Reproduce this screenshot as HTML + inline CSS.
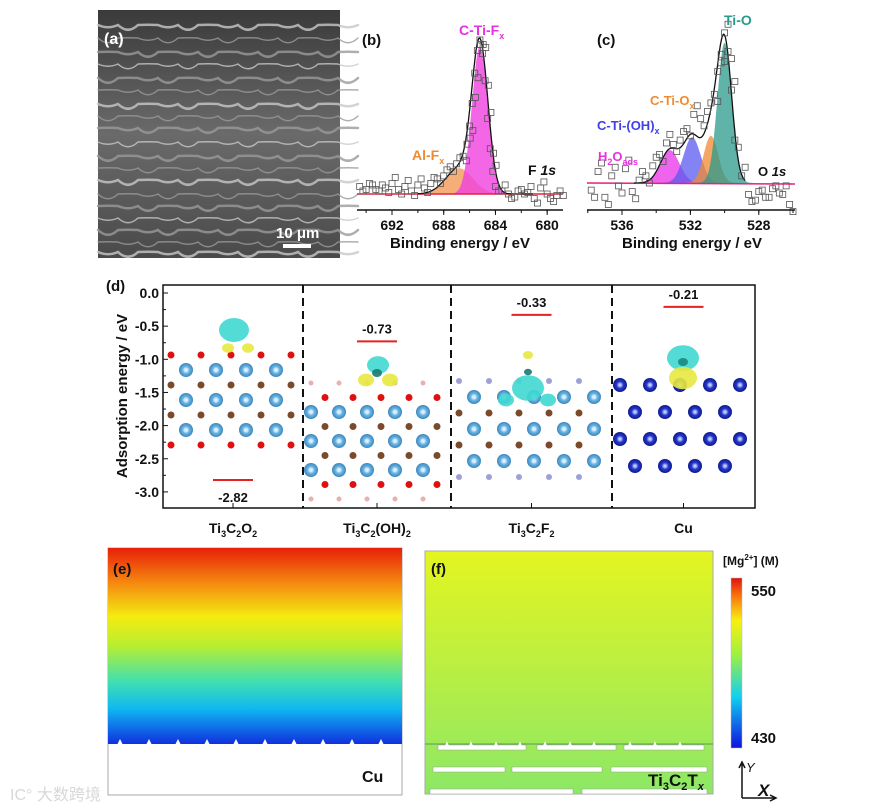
<!DOCTYPE html>
<html><head><meta charset="utf-8">
<style>
body{margin:0;background:#fff;}
svg{display:block;font-family:"Liberation Sans",Arial,sans-serif;}
</style></head>
<body>
<svg id="fig" width="886" height="809" viewBox="0 0 886 809" xmlns="http://www.w3.org/2000/svg">
<defs>
 <linearGradient id="gE" x1="0" y1="0" x2="0" y2="1">
  <stop offset="0" stop-color="#e8200a"/><stop offset="0.18" stop-color="#f58a10"/>
  <stop offset="0.35" stop-color="#f4ec10"/><stop offset="0.5" stop-color="#b8ee30"/>
  <stop offset="0.68" stop-color="#40e0b0"/><stop offset="0.82" stop-color="#10b8f0"/>
  <stop offset="1" stop-color="#1030e0"/></linearGradient>
 <linearGradient id="gF" x1="0" y1="0" x2="0" y2="1">
  <stop offset="0" stop-color="#e4f520"/><stop offset="1" stop-color="#8ce866"/></linearGradient>
 <linearGradient id="gCB" x1="0" y1="1" x2="0" y2="0">
  <stop offset="0" stop-color="#1010e0"/><stop offset="0.3" stop-color="#10d0f0"/>
  <stop offset="0.55" stop-color="#a0f040"/><stop offset="0.75" stop-color="#f8f010"/>
  <stop offset="0.9" stop-color="#f87010"/><stop offset="1" stop-color="#e01010"/></linearGradient>
 <linearGradient id="gSEM" x1="0" y1="0" x2="0" y2="1">
  <stop offset="0" stop-color="#3a3a3a"/><stop offset="0.5" stop-color="#6a6a6a"/><stop offset="1" stop-color="#4a4a4a"/></linearGradient>
 <radialGradient id="atomB"><stop offset="0.2" stop-color="#d8f0ff"/><stop offset="0.5" stop-color="#6ab4e0"/><stop offset="1" stop-color="#3a86c0"/></radialGradient>
 <radialGradient id="atomCu"><stop offset="0.15" stop-color="#c0c8ff"/><stop offset="0.5" stop-color="#2236c8"/><stop offset="1" stop-color="#101a90"/></radialGradient>
</defs>

<!-- (a) SEM -->
<g>
 <rect x="98" y="10" width="242" height="248" fill="url(#gSEM)"/>
 <g id="semLines" stroke-linecap="round" fill="none"></g>
 <text x="104" y="44" font-size="16" font-weight="bold" fill="#fff">(a)</text>
 <text x="276" y="238" font-size="15" font-weight="bold" fill="#fff">10 μm</text>
 <rect x="283" y="244" width="28" height="4" fill="#fff"/>
</g>

<g id="pb"></g>
<g id="pc"></g>
<g id="pd"></g>

<!-- (e) -->
<g>
 <rect x="108" y="548" width="294" height="247" fill="#fff" stroke="#aaa"/>
 <rect x="108" y="548" width="294" height="196" fill="url(#gE)"/>
 <g id="bumpsE" fill="#fff"></g>
 <text x="113" y="574" font-size="15" font-weight="bold" fill="#111">(e)</text>
 <text x="362" y="782" font-size="16" font-weight="bold" fill="#111">Cu</text>
</g>

<!-- (f) -->
<g>
 <rect x="425" y="551" width="288" height="243" fill="url(#gF)" stroke="#aaa"/>
 <line x1="425" y1="744" x2="713" y2="744" stroke="#5a9a5a" stroke-width="1"/>
 <g fill="#fff" stroke="#999" stroke-width="0.5">
  <rect x="438" y="745" width="88" height="5"/><rect x="537" y="745" width="79" height="5"/><rect x="624" y="745" width="80" height="5"/>
  <rect x="433" y="767" width="72" height="5"/><rect x="512" y="767" width="90" height="5"/><rect x="611" y="767" width="96" height="5"/>
  <rect x="430" y="789" width="143" height="5"/><rect x="582" y="789" width="125" height="5"/>
 </g>
 <g id="bumpsF" fill="#fff"></g>
 <text x="431" y="574" font-size="15" font-weight="bold" fill="#111">(f)</text>
 <text x="648" y="786" font-size="17" font-weight="bold" fill="#111">Ti<tspan font-size="11" dy="4">3</tspan><tspan dy="-4">C</tspan><tspan font-size="11" dy="4">2</tspan><tspan dy="-4">T</tspan><tspan font-size="11" dy="4" font-style="italic">x</tspan></text>
</g>

<!-- colorbar -->
<g>
 <text x="723" y="565" font-size="12" font-weight="bold" fill="#111">[Mg<tspan font-size="8" dy="-5">2+</tspan><tspan dy="5">] (M)</tspan></text>
 <rect x="731" y="578" width="11" height="170" fill="url(#gCB)" stroke="#bbb" stroke-width="0.5"/>
 <text x="751" y="596" font-size="15" font-weight="bold" fill="#111">550</text>
 <text x="751" y="743" font-size="15" font-weight="bold" fill="#111">430</text>
</g>
<g stroke="#111" stroke-width="1.5" fill="none">
 <path d="M742 798 V764 M739 768 L742 762 L745 768"/>
 <path d="M742 798 H775 M770 795 L776 798 L770 801"/>
 <text x="746" y="772" font-size="13" font-style="italic" fill="#111" stroke="none">Y</text>
 <text x="758" y="796" font-size="17" font-weight="bold" font-style="italic" fill="#111" stroke="none">X</text>
</g>
<text x="10" y="800" font-size="16" fill="#d8d8d8" font-family="'Liberation Sans','Noto Sans CJK SC',sans-serif">IC° 大数跨境</text>
</svg>

<script>
const NS="http://www.w3.org/2000/svg";
function mk(tag,attrs,parent,text){const e=document.createElementNS(NS,tag);for(const k in attrs)e.setAttribute(k,attrs[k]);if(text!==undefined)e.textContent=text;parent.appendChild(e);return e;}

/* ===== Panel (b) data ===== */
const bEnergies=[694.5,694,693.5,693,692.5,692,691.5,691,690.5,690,689.5,689,688.5,688,687.5,687,686.5,686.2,686,685.8,685.6,685.4,685.2,685,684.8,684.6,684.4,684.2,684,683.5,683,682.5,682,681.5,681,680.5,680,679.5,679];
const bCounts=[0.05,0.03,0.06,0.02,0.04,0.07,0.03,0.05,0.02,0.06,0.04,0.07,0.1,0.12,0.18,0.2,0.25,0.33,0.45,0.6,0.8,0.95,1.02,0.93,0.75,0.5,0.3,0.15,0.05,0.02,0.0,-0.02,0.03,0.01,-0.03,0.04,0.0,-0.05,0.02];
const bPeakCenters=[685.2,686.8];
const bPeakHeights=[0.98,0.17];
const bPeakSigmas=[0.62,1.05];
const bPeakLabels=["C-Ti-F","Al-F"];
const bTicks=[692,688,684,680];

/* ===== Panel (c) data ===== */
const cEnergies=[537.8,537.4,537,536.6,536.2,535.8,535.4,535,534.6,534.2,533.8,533.4,533,532.6,532.2,531.8,531.4,531,530.6,530.4,530.2,530,529.8,529.6,529.4,529,528.6,528.2,527.8,527.4,527,526.6,526.2];
const cCounts=[-0.05,0.08,-0.1,0.05,-0.02,0.1,-0.06,0.02,0.05,0.12,0.2,0.28,0.27,0.3,0.38,0.48,0.45,0.5,0.62,0.78,0.9,1.05,0.92,0.65,0.3,0.05,-0.08,-0.12,-0.05,-0.1,-0.02,-0.08,-0.15];
const cPeakCenters=[530.0,530.8,531.9,533.2];
const cPeakHeights=[0.98,0.33,0.32,0.23];
const cPeakSigmas=[0.42,0.42,0.5,0.55];
const cPeakColors=["#2a9a8c","#f08a30","#5a5af0","#e830e8"];
const cTicks=[536,532,528];

/* ===== Panel (d) data ===== */
const dCategories=["Ti3C2O2","Ti3C2(OH)2","Ti3C2F2","Cu"];
const dEnergies=[-2.82,-0.73,-0.33,-0.21];
const dTicks=[0.0,-0.5,-1.0,-1.5,-2.0,-2.5,-3.0];

function gauss(x,c,h,s){return h*Math.exp(-0.5*((x-c)/s)**2);}

/* ---- panel b ---- */
(function(){
 const g=document.getElementById('pb');
 const xB=e=>392+(692-e)*12.93, yB=v=>194-151*v;
 const sum=e=>bPeakCenters.reduce((a,c,i)=>a+gauss(e,c,bPeakHeights[i],bPeakSigmas[i]),0);
 const cols=["#f040e0","#f4a060"];
 [1,0].forEach(i=>{let d="M"+xB(690)+" "+yB(0);for(let e=690;e>=680.5;e-=0.1)d+=" L"+xB(e).toFixed(1)+" "+yB(gauss(e,bPeakCenters[i],bPeakHeights[i],bPeakSigmas[i])).toFixed(1);d+=" L"+xB(680.5)+" "+yB(0)+"Z";
  const p=mk('path',{d:d,fill:cols[i],opacity:i?0.85:0.8},g);
  
  });
 const base=mk('line',{x1:357,x2:563,y1:yB(0),y2:yB(0),stroke:"#e8203a","stroke-width":1.5},g);
 
 
 let d="";for(let e=690;e>=681;e-=0.1)d+=(d?" L":"M")+xB(e).toFixed(1)+" "+yB(sum(e)).toFixed(1);
 const fit=mk('path',{d:d,fill:"none",stroke:"#111","stroke-width":1.3},g);
 
 
 bEnergies.forEach((e,i)=>{const r=mk('rect',{x:xB(e)-3,y:yB(bCounts[i])-3,width:6,height:6,fill:"none",stroke:"#555","stroke-width":0.8},g);
  
  
  const r2=mk('rect',{x:xB(e-0.25)-3,y:yB(bCounts[i]+(i%2?0.04:-0.03))-3,width:6,height:6,fill:"none",stroke:"#555","stroke-width":0.8},g);
  
  });
 mk('line',{x1:357,x2:563,y1:210,y2:210,stroke:"#111","stroke-width":1.5},g);
 bTicks.forEach(t=>{mk('line',{x1:xB(t),x2:xB(t),y1:210,y2:215,stroke:"#111"},g);
  const tl=mk('text',{x:xB(t),y:230,"font-size":14,"font-weight":"bold","text-anchor":"middle",fill:"#111"},g,t);
  
  });
 for(let t=694;t>=680;t-=2){mk('line',{x1:xB(t),x2:xB(t),y1:210,y2:213,stroke:"#111"},g);}
 const xt=mk('text',{x:460,y:248,"font-size":15,"font-weight":"bold","text-anchor":"middle",fill:"#111"},g,"Binding energy / eV");
 
 
 mk('text',{x:362,y:45,"font-size":15,"font-weight":"bold",fill:"#111"},g,"(b)");
 const l1=mk('text',{x:459,y:35,"font-size":14,"font-weight":"bold",fill:"#e830e0"},g,"C-Ti-F");mk('tspan',{"font-size":9,dy:4},l1,"x");
 const l2=mk('text',{x:412,y:160,"font-size":14,"font-weight":"bold",fill:"#f08a30"},g,"Al-F");mk('tspan',{"font-size":9,dy:4},l2,"x");
 const l3=mk('text',{x:528,y:175,"font-size":14,"font-weight":"bold",fill:"#111"},g,"F ");mk('tspan',{"font-style":"italic"},l3,"1s");
})();

/* ---- panel c ---- */
(function(){
 const g=document.getElementById('pc');
 const xC=e=>622+(536-e)*17.1, yC=v=>183-143*v;
 const sum=e=>cPeakCenters.reduce((a,c,i)=>a+gauss(e,c,cPeakHeights[i],cPeakSigmas[i]),0);
 [3,2,1,0].forEach(i=>{let d="M"+xC(536)+" "+yC(0);for(let e=536;e>=528;e-=0.05)d+=" L"+xC(e).toFixed(1)+" "+yC(gauss(e,cPeakCenters[i],cPeakHeights[i],cPeakSigmas[i])).toFixed(1);d+=" L"+xC(528)+" "+yC(0)+"Z";
  const p=mk('path',{d:d,fill:cPeakColors[i],opacity:0.75},g);
  
  });
 mk('line',{x1:587,x2:795,y1:yC(0),y2:yC(0)+1,stroke:"#e8207a","stroke-width":1.5},g);
 let d="";for(let e=535.3;e>=528.8;e-=0.05)d+=(d?" L":"M")+xC(e).toFixed(1)+" "+yC(sum(e)).toFixed(1);
 const fit=mk('path',{d:d,fill:"none",stroke:"#111","stroke-width":1.3},g);
 
 
 cEnergies.forEach((e,i)=>{const r=mk('rect',{x:xC(e)-3,y:yC(cCounts[i])-3,width:6,height:6,fill:"none",stroke:"#555","stroke-width":0.8},g);
  
  
  const r2=mk('rect',{x:xC(e-0.2)-3,y:yC(cCounts[i]+(i%2?0.06:-0.05))-3,width:6,height:6,fill:"none",stroke:"#555","stroke-width":0.8},g);
  
  });
 mk('line',{x1:587,x2:795,y1:210,y2:210,stroke:"#111","stroke-width":1.5},g);
 cTicks.forEach(t=>{mk('line',{x1:xC(t),x2:xC(t),y1:210,y2:215,stroke:"#111"},g);
  const tl=mk('text',{x:xC(t),y:230,"font-size":14,"font-weight":"bold","text-anchor":"middle",fill:"#111"},g,t);
  
  });
 for(let t=538;t>=526;t-=2){mk('line',{x1:xC(t),x2:xC(t),y1:210,y2:213,stroke:"#111"},g);}
 const xt=mk('text',{x:692,y:248,"font-size":15,"font-weight":"bold","text-anchor":"middle",fill:"#111"},g,"Binding energy / eV");
 
 
 mk('text',{x:597,y:45,"font-size":15,"font-weight":"bold",fill:"#111"},g,"(c)");
 mk('text',{x:724,y:25,"font-size":14,"font-weight":"bold",fill:"#2a9a8c"},g,"Ti-O");
 const a=mk('text',{x:650,y:105,"font-size":13,"font-weight":"bold",fill:"#f08a30"},g,"C-Ti-O");mk('tspan',{"font-size":9,dy:4},a,"x");
 const b=mk('text',{x:597,y:130,"font-size":13,"font-weight":"bold",fill:"#4040e8"},g,"C-Ti-(OH)");mk('tspan',{"font-size":9,dy:4},b,"x");
 const c=mk('text',{x:598,y:161,"font-size":13,"font-weight":"bold",fill:"#e830e0"},g,"H");mk('tspan',{"font-size":9,dy:4},c,"2");mk('tspan',{dy:-4},c,"O");mk('tspan',{"font-size":9,dy:4},c,"ads");
 const o=mk('text',{x:758,y:176,"font-size":13,"font-weight":"bold",fill:"#111"},g,"O ");mk('tspan',{"font-style":"italic"},o,"1s");
})();

/* ---- panel d ---- */
(function(){
 const g=document.getElementById('pd');
 const L=163,R=755,T=285,B=508;
 const yD=v=>293-66.3*v;
 const bounds=[L,303,451,612,R];
 const xc=i=>(bounds[i]+bounds[i+1])/2;
 // decorative atoms
 function atom(x,y,r,fill){mk('circle',{cx:x,cy:y,r:r,fill:fill},g);}
 function lattice(i,y0,rows,spec){const x0=bounds[i]+8,x1=bounds[i+1]-8;
  rows.forEach((row,k)=>{const y=y0+k*spec.dy;const off=(k%2)?spec.dx/2:0;
   for(let x=x0+off;x<=x1;x+=spec.dx){ if(row==='Ti')atom(x,y,7,"url(#atomB)");else if(row==='C')atom(x,y,3.5,"#7a4a2a");else if(row==='O')atom(x,y,3.5,"#e01010");else if(row==='H')atom(x,y,2.5,"#e8b0b0");else if(row==='F')atom(x,y,3,"#a0a0d8");else if(row==='Cu')atom(x,y,7,"url(#atomCu)");}});}
 lattice(0,355,['O','Ti','C','Ti','C','Ti','O'],{dx:30,dy:15});
 lattice(1,383,['H','O','Ti','C','Ti','C','Ti','O','H'],{dx:28,dy:14.5});
 lattice(2,381,['F','Ti','C','Ti','C','Ti','F'],{dx:30,dy:16});
 lattice(3,385,['Cu','Cu','Cu','Cu'],{dx:30,dy:27});
 // charge density blobs
 [[234,330,15,"#40d8d0"],[228,348,6,"#e8e840"],[248,348,6,"#e8e840"],[378,365,11,"#40d8d0"],[366,380,8,"#e8e840"],[390,380,8,"#e8e840"],[377,373,5,"#1a7a70"],
  [528,388,16,"#40d8d0"],[528,372,4,"#1a7a70"],[528,355,5,"#e8e840"],[506,400,8,"#40d8d0"],[548,400,8,"#40d8d0"],[683,358,16,"#40d8d0"],[683,378,14,"#e8e840"],[683,362,5,"#1a8a80"]]
  .forEach(b=>mk('ellipse',{cx:b[0],cy:b[1],rx:b[2],ry:b[2]*0.8,fill:b[3],opacity:0.9},g));
 // frame
 const fr=mk('rect',{x:L,y:T,width:R-L,height:B-T,fill:"none",stroke:"#111","stroke-width":1.5},g);
 
 
 [1,2,3].forEach(i=>{const s=mk('line',{x1:bounds[i],x2:bounds[i],y1:T,y2:B,stroke:"#111","stroke-width":2,"stroke-dasharray":"8,5"},g);
  
  });
 dTicks.forEach(t=>{mk('line',{x1:L,x2:L+5,y1:yD(t),y2:yD(t),stroke:"#111"},g);
  const tl=mk('text',{x:L-4,y:yD(t)+5,"font-size":14,"font-weight":"bold","text-anchor":"end",fill:"#111"},g,t.toFixed(1));
  
  });
 for(let t=-0.25;t>-3.2;t-=0.5)mk('line',{x1:L,x2:L+3,y1:yD(t),y2:yD(t),stroke:"#111"},g);
 const yt=mk('text',{x:0,y:0,"font-size":15,"font-weight":"bold","text-anchor":"middle",fill:"#111",transform:"translate(127,396) rotate(-90)"},g,"Adsorption energy / eV");
 
 
 mk('text',{x:106,y:291,"font-size":15,"font-weight":"bold",fill:"#111"},g,"(d)");
 const subs=[["Ti","3","C","2","O","2"],["Ti","3","C","2","(OH)","2"],["Ti","3","C","2","F","2"],["Cu"]];
 dEnergies.forEach((v,i)=>{const x=xc(i);
  mk('line',{x1:x,x2:x,y1:B,y2:B-5,stroke:"#111"},g);
  const ln=mk('line',{x1:x-20,x2:x+20,y1:yD(v),y2:yD(v),stroke:"#e82020","stroke-width":2},g);
  
  
  const lb=mk('text',{x:x,y:v<-2?yD(v)+22:yD(v)-8,"font-size":13,"font-weight":"bold","text-anchor":"middle",fill:"#111"},g,v.toFixed(2));
  
  
  const ct=mk('text',{x:x,y:533,"font-size":14,"font-weight":"bold","text-anchor":"middle",fill:"#111"},g);
  
  
  subs[i].forEach((s,k)=>{const sub=k%2===1;mk('tspan',sub?{"font-size":9,dy:4}:{dy:(k>0?-4:0)},ct,s);});
 });
})();

/* ---- decorative SEM & bumps ---- */
(function(){
 const g=document.getElementById('semLines');
 const ys=[25,38,52,64,78,90,104,116,128,142,156,168,180,194,206,218,230,242,252];
 ys.forEach((y,k)=>{let d="M98 "+y;for(let x=98;x<=340;x+=20)d+=" Q"+(x+10)+" "+(y+((k+x/20)%3-1)*5)+" "+(x+20)+" "+y;
  mk('path',{d:d,stroke:k%3?"#9a9a9a":"#c8c8c8","stroke-width":k%2?1.5:2.5,opacity:0.8},g);});
 const e=document.getElementById('bumpsE');
 for(let x=120;x<400;x+=29)mk('path',{d:`M${x-3} 745 L${x} 739 L${x+3} 745Z`},e);
 const f=document.getElementById('bumpsF');
 [447,471,496,520,545,570,594,630,655,680].forEach(x=>mk('path',{d:`M${x-2} 746 L${x} 741 L${x+2} 746Z`},f));
})();
</script>
</body></html>
